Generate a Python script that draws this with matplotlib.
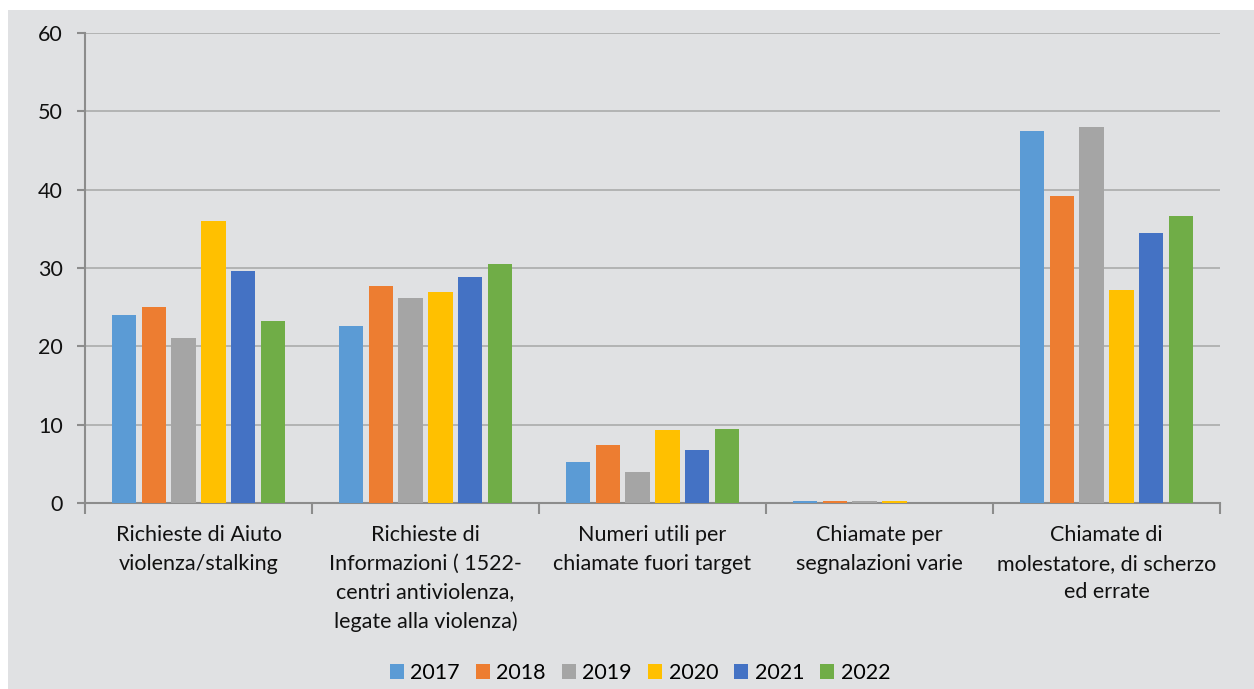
import matplotlib
matplotlib.use("Agg")
import matplotlib.pyplot as plt
import numpy as np
from matplotlib.patches import Rectangle

categories = [
    "Richieste di Aiuto\nviolenza/stalking",
    "Richieste di\nInformazioni ( 1522-\ncentri antiviolenza,\nlegate alla violenza)",
    "Numeri utili per\nchiamate fuori target",
    "Chiamate per\nsegnalazioni varie",
    "Chiamate di\nmolestatore, di scherzo\ned errate",
]
years = ["2017", "2018", "2019", "2020", "2021", "2022"]
v2017 = [24.0, 22.6, 5.2, 0.3, 47.5]
v2018 = [25.0, 27.7, 7.4, 0.3, 39.2]
v2019 = [21.1, 26.2, 4.0, 0.3, 48.0]
v2020 = [36.0, 26.9, 9.3, 0.2, 27.2]
v2021 = [29.6, 28.8, 6.8, 0.0, 34.5]
v2022 = [23.2, 30.5, 9.4, 0.0, 36.6]
series = [v2017, v2018, v2019, v2020, v2021, v2022]
colors = ["#5B9BD5", "#ED7D31", "#A5A5A5", "#FFC000", "#4472C4", "#70AD47"]

plt.rcParams['font.family'] = ['Lato', 'DejaVu Sans']
bg = "#E0E1E3"
fs = 15.5

fig = plt.figure(figsize=(12.54, 6.89), dpi=100)
fig.patch.set_facecolor("white")
fig.patches.append(Rectangle((8/1254, 0), 1 - 8/1254, 1 - 10/689, transform=fig.transFigure,
                             facecolor=bg, edgecolor="none", zorder=-10))
ax = fig.add_axes([85/1254, 1 - 503/689, (1220 - 85)/1254, (503 - 33)/689])
ax.set_facecolor(bg)

x = np.arange(len(categories))
step = 0.132
width = 0.106
for i, (vals, c, y) in enumerate(zip(series, colors, years)):
    ax.bar(x + (i - 2.5) * step, vals, width=width, color=c, label=y, zorder=3)

ax.set_xlim(-0.5, len(categories) - 0.5)
ax.set_ylim(0, 60)
ax.set_yticks(range(0, 61, 10))
ax.grid(axis='y', color="#ABABAB", linewidth=1.2, zorder=0)
ax.set_axisbelow(True)
for s in ["top", "right"]:
    ax.spines[s].set_visible(False)
ax.spines["left"].set_color("#8C8C8C")
ax.spines["left"].set_linewidth(1.5)
ax.spines["bottom"].set_color("#8C8C8C")
ax.spines["bottom"].set_linewidth(1.5)

ax.set_xticks(x)
ax.set_xticklabels(categories, fontsize=fs, color="#111111", linespacing=1.53)
ax.tick_params(axis='x', length=0, pad=16)
ax.set_xticks(np.arange(-0.5, len(categories) + 0.5, 1.0), minor=True)
ax.tick_params(axis='x', which='minor', length=8, width=1.5, color="#8C8C8C")
ax.tick_params(axis='y', labelsize=fs, length=6, width=1.5, color="#8C8C8C",
               pad=10, labelcolor="#111111")

leg = ax.legend(loc="center", bbox_to_anchor=(0.489, -0.362), ncol=6, frameon=False,
                fontsize=fs, handlelength=0.65, handleheight=0.65,
                columnspacing=0.75, handletextpad=0.3)

fig.savefig("out.png", dpi=100, facecolor=fig.get_facecolor())
